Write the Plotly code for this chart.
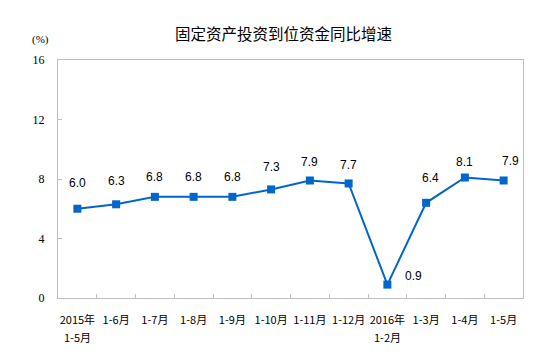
import plotly.graph_objects as go

categories_line1 = ["2015年", "1-6月", "1-7月", "1-8月", "1-9月", "1-10月",
                    "1-11月", "1-12月", "2016年", "1-3月", "1-4月", "1-5月"]
categories_line2 = ["1-5月", "", "", "", "", "", "", "", "1-2月", "", "", ""]
values = [6.0, 6.3, 6.8, 6.8, 6.8, 7.3, 7.9, 7.7, 0.9, 6.4, 8.1, 7.9]
y_ticks = [0, 4, 8, 12, 16]

# label placement (pixel shifts)
label_xshift = [0, 0, 0, 0, 0, 0, 0, 0, 26, 4, 0, 7]
label_yshift = [26, 23, 20, 20, 20, 22, 18, 18, 9, 25, 16, 19]

n = len(categories_line1)
fig = go.Figure()
fig.add_trace(go.Scatter(
    x=list(range(n)), y=values, mode="lines+markers",
    line=dict(color="#0066cc", width=2),
    marker=dict(symbol="square", size=8, color="#0066cc"),
    hoverinfo="skip", showlegend=False,
))

for i, v in enumerate(values):
    fig.add_annotation(x=i, y=v, text=f"{v:.1f}", showarrow=False,
                       xshift=label_xshift[i], yshift=label_yshift[i],
                       font=dict(family="Liberation Sans, Arial", size=12, color="#000000"))

for i, t in enumerate(categories_line2):
    if t:
        fig.add_annotation(x=i, y=0, yref="paper", text=t, showarrow=False,
                           yanchor="middle", yshift=-38.5,
                           font=dict(family="Noto Sans CJK SC", size=11, color="#000000"))

fig.add_annotation(text="固定资产投资到位资金同比增速", xref="paper", yref="paper",
                   x=0.486, y=1.0, yshift=27, yanchor="middle", showarrow=False,
                   xanchor="center",
                   font=dict(family="Noto Sans CJK SC", size=15.5, color="#000000"))
fig.add_annotation(text="(%)", xref="paper", yref="paper", x=0, y=1.0,
                   xshift=-18, yshift=21, yanchor="middle", showarrow=False,
                   xanchor="center",
                   font=dict(family="Liberation Serif", size=11, color="#000000"))

axis_line = "#bfbfbf"
fig.update_layout(
    width=545, height=354,
    margin=dict(l=50, r=30, t=52, b=64, autoexpand=False),
    paper_bgcolor="white", plot_bgcolor="white",
    xaxis=dict(
        tickmode="array", tickvals=list(range(n)), ticktext=categories_line1,
        range=[-0.5, n - 0.5], automargin=False,
        showgrid=False, zeroline=False,
        showline=True, linecolor=axis_line, linewidth=1, mirror=True,
        ticks="", ticklabelstandoff=12,
        tickfont=dict(family="Noto Sans CJK SC", size=11, color="#000000"),
    ),
    xaxis2=dict(
        overlaying="x", matches="x", range=[-0.5, n - 0.5], automargin=False,
        tickvals=[i + 0.5 for i in range(n - 1)], ticktext=[""] * (n - 1),
        ticks="inside", ticklen=4, tickcolor=axis_line, showgrid=False, zeroline=False,
        showline=False, side="bottom", anchor="y",
    ),
    yaxis=dict(
        range=[0, 16], tickvals=y_ticks, showgrid=False, zeroline=False,
        automargin=False,
        showline=True, linecolor=axis_line, linewidth=1, mirror=True,
        ticks="inside", ticklen=4, tickcolor=axis_line,
        tickfont=dict(family="Liberation Serif", size=12, color="#000000"),
        ticklabelstandoff=10,
    ),
)

fig.add_trace(go.Scatter(x=[0], y=[0], xaxis="x2", mode="markers",
                         marker=dict(opacity=0), hoverinfo="skip", showlegend=False))

fig.write_html("out.html")
